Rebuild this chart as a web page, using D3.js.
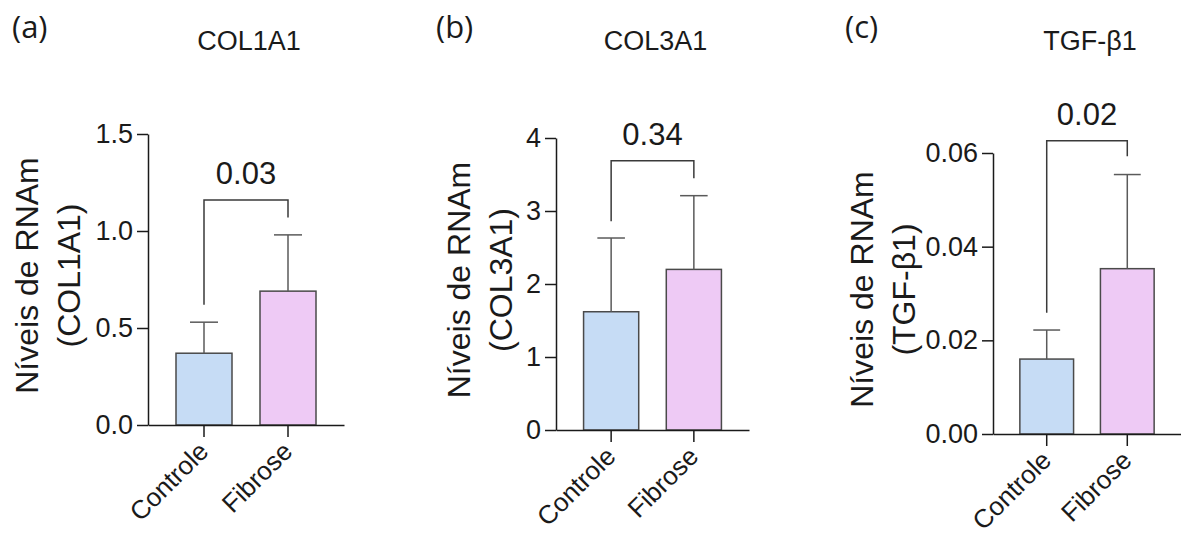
<!DOCTYPE html>
<html>
<head>
<meta charset="utf-8">
<script src="https://cdn.jsdelivr.net/npm/d3@7"></script>
<style>
  body { margin: 0; background: #fff; }
  svg { display: block; }
</style>
</head>
<body>
<svg id="chart" width="1181" height="539"></svg>
<script>
// data
const categories = ["Controle", "Fibrose"];
const panelLetters = ["(a)", "(b)", "(c)"];
const genes = ["COL1A1", "COL3A1", "TGF-β1"];

const meanCOL1A1 = [0.37, 0.69];
const sdCOL1A1 = [0.16, 0.29];
const meanCOL3A1 = [1.62, 2.20];
const sdCOL3A1 = [1.01, 1.01];
const meanTGFB1 = [0.0160, 0.0353];
const sdTGFB1 = [0.0062, 0.0201];

const ticksCOL1A1 = [0, 0.5, 1.0, 1.5];
const ticksCOL3A1 = [0, 1, 2, 3, 4];
const ticksTGFB1 = [0, 0.02, 0.04, 0.06];

const pValues = ["0.03", "0.34", "0.02"];
const bracketTop = [1.16, 3.69, 0.0626];
const bracketLegs = [[0.62, 1.07], [2.86, 3.45], [0.0259, 0.0593]];

const barColors = ["#c6dcf5", "#eecaf5"];

// layout for each panel (pixel positions of the plot area)
const panels = [
  {mean: meanCOL1A1, sd: sdCOL1A1, ticks: ticksCOL1A1, fmt: d3.format(".1f"),
   left: 148, top: 134, bottom: 425, width: 196, letterX: 12, titleDx: -110},
  {mean: meanCOL3A1, sd: sdCOL3A1, ticks: ticksCOL3A1, fmt: d3.format("d"),
   left: 556, top: 138, bottom: 430, width: 193, letterX: 436, titleDx: -86},
  {mean: meanTGFB1, sd: sdTGFB1, ticks: ticksTGFB1, fmt: d3.format(".2f"),
   left: 993, top: 153, bottom: 434, width: 188, letterX: 845, titleDx: -120}
];

const svg = d3.select("#chart");
const font = "'Liberation Sans', Arial, sans-serif";

panels.forEach((p, i) => drawPanel(p, i));

function drawPanel(p, i) {
  const g = svg.append("g");

  const y = d3.scaleLinear()
    .domain([0, d3.max(p.ticks)])
    .range([p.bottom, p.top]);

  const x = d3.scaleBand()
    .domain(categories)
    .range([p.left, p.left + p.width])
    .paddingInner(1 / 3)
    .paddingOuter(1 / 3);

  const cx = c => x(c) + x.bandwidth() / 2;

  // bars
  g.selectAll("rect.bar")
    .data(categories)
    .enter()
    .append("rect")
    .attr("class", "bar")
    .attr("x", d => x(d))
    .attr("y", (d, j) => y(p.mean[j]))
    .attr("width", x.bandwidth())
    .attr("height", (d, j) => y(0) - y(p.mean[j]))
    .style("fill", (d, j) => barColors[j])
    .style("stroke", "#4a4a4a")
    .style("stroke-width", 1.5);

  // error bars (upper only)
  const err = g.selectAll("g.err")
    .data(categories)
    .enter()
    .append("g")
    .attr("class", "err")
    .style("stroke", "#5a5a5a")
    .style("stroke-width", 1.5);
  err.append("line")
    .attr("x1", d => cx(d)).attr("x2", d => cx(d))
    .attr("y1", (d, j) => y(p.mean[j]))
    .attr("y2", (d, j) => y(p.mean[j] + p.sd[j]));
  err.append("line")
    .attr("x1", d => cx(d) - x.bandwidth() / 4)
    .attr("x2", d => cx(d) + x.bandwidth() / 4)
    .attr("y1", (d, j) => y(p.mean[j] + p.sd[j]))
    .attr("y2", (d, j) => y(p.mean[j] + p.sd[j]));

  // y axis
  const yAxis = g.append("g")
    .attr("transform", `translate(${p.left},0)`)
    .call(d3.axisLeft(y).tickValues(p.ticks).tickFormat(p.fmt)
      .tickSize(11).tickSizeOuter(0).tickPadding(4));
  yAxis.selectAll("path, line").style("stroke", "#1a1a1a").style("stroke-width", 1.5);
  yAxis.selectAll("text")
    .style("font-family", font).style("font-size", "27px").style("fill", "#1a1a1a");

  // x axis
  const xAxis = g.append("g")
    .attr("transform", `translate(0,${p.bottom})`)
    .call(d3.axisBottom(x).tickSize(12).tickSizeOuter(0));
  xAxis.selectAll("path, line").style("stroke", "#1a1a1a").style("stroke-width", 1.5);
  xAxis.selectAll("text")
    .attr("x", 0).attr("y", 0).attr("dy", 0)
    .attr("transform", "translate(6,28) rotate(-45)")
    .style("text-anchor", "end")
    .style("font-family", font).style("font-size", "26px").style("fill", "#1a1a1a");

  // significance bracket
  const xl = cx(categories[0]), xr = cx(categories[1]);
  g.append("path")
    .attr("d", `M${xl},${y(bracketLegs[i][0])}V${y(bracketTop[i])}H${xr}V${y(bracketLegs[i][1])}`)
    .style("fill", "none")
    .style("stroke", "#3a3a3a")
    .style("stroke-width", 1.5);
  g.append("text")
    .attr("x", (xl + xr) / 2)
    .attr("y", y(bracketTop[i]) - 16)
    .attr("text-anchor", "middle")
    .style("font-family", font).style("font-size", "31px").style("fill", "#1a1a1a")
    .text(pValues[i]);

  // gene title
  g.append("text")
    .attr("x", (xl + xr) / 2 + 3)
    .attr("y", 50)
    .attr("text-anchor", "middle")
    .style("font-family", font).style("font-size", "27px").style("fill", "#1a1a1a")
    .text(genes[i]);

  // panel letter
  g.append("text")
    .attr("x", p.letterX)
    .attr("y", 38)
    .style("font-family", "'Open Sans', sans-serif").style("font-size", "31px").style("fill", "#1a1a1a")
    .text(panelLetters[i]);

  // y axis title (two lines)
  const yt = g.append("text")
    .attr("transform", `translate(${p.left + p.titleDx},${(p.top + p.bottom) / 2 - 4}) rotate(-90)`)
    .attr("text-anchor", "middle")
    .style("font-family", font).style("font-size", "32px").style("fill", "#1a1a1a");
  yt.append("tspan").attr("x", 0).attr("y", 0).text("Níveis de RNAm");
  yt.append("tspan").attr("x", 0).attr("y", 42).text(`(${genes[i]})`);
}
</script>
</body>
</html>
